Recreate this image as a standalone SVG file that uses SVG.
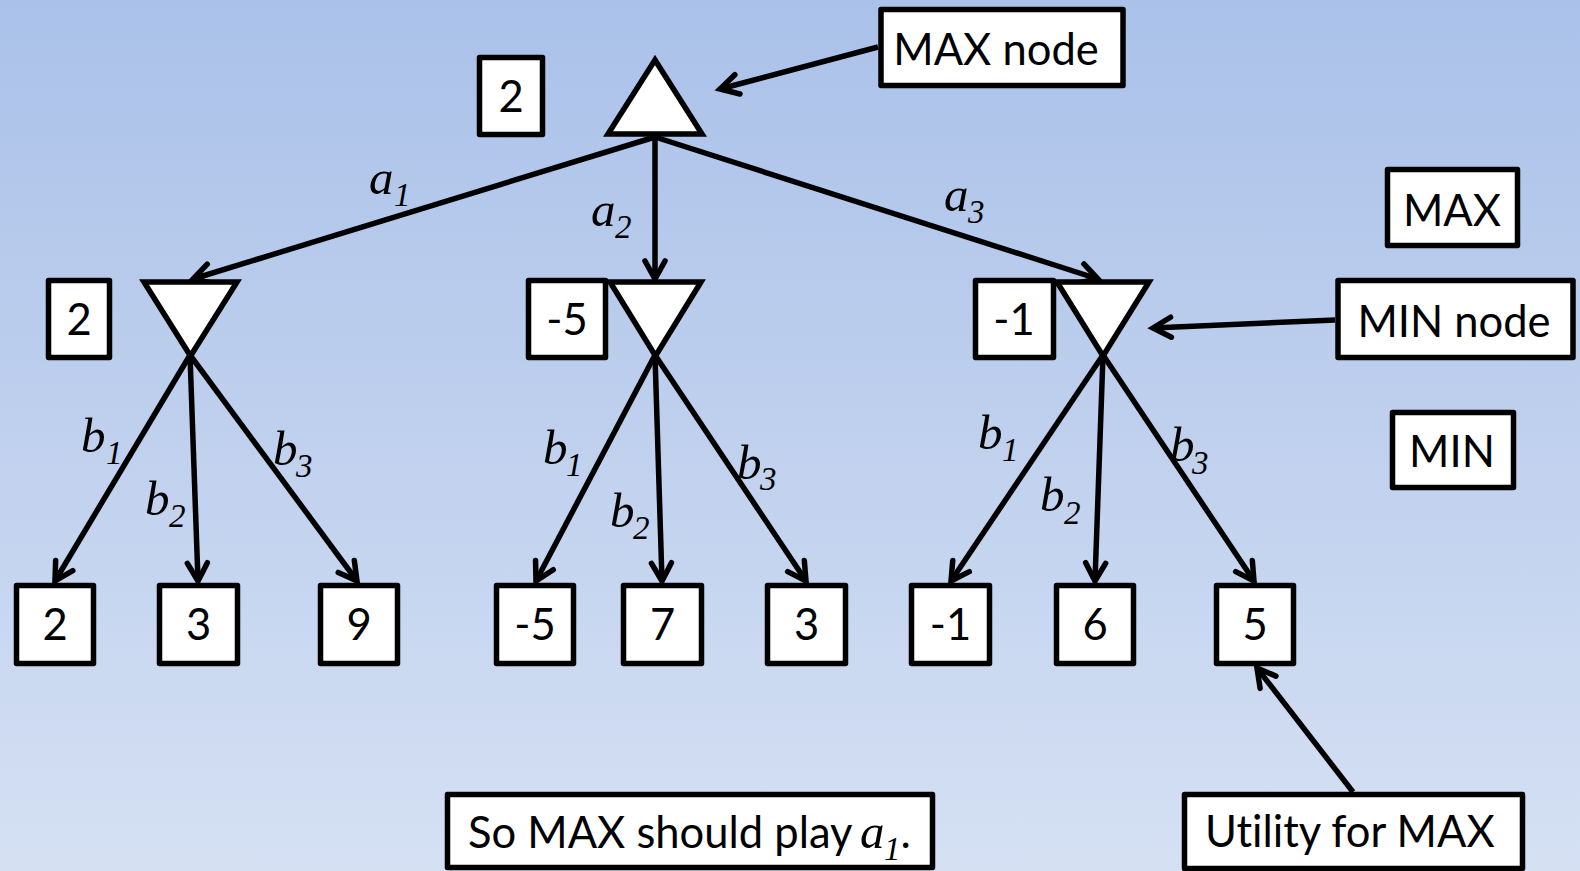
<svg xmlns="http://www.w3.org/2000/svg" width="1580" height="871" viewBox="0 0 1580 871">
  <defs>
    <linearGradient id="bg" x1="0" y1="0" x2="0" y2="1">
      <stop offset="0" stop-color="#AAC1E9"/>
      <stop offset="1" stop-color="#D5E0F3"/>
    </linearGradient>
    <marker id="arr" markerUnits="userSpaceOnUse" markerWidth="26" markerHeight="24" viewBox="0 0 26 24" refX="21" refY="12" orient="auto" overflow="visible">
      <path d="M3,2 L21,12 L3,22" fill="none" stroke="#000" stroke-width="5.5" stroke-linecap="round" stroke-linejoin="miter"/>
    </marker>
    <style>
      .box { fill: #fff; stroke: #000; stroke-width: 5.5; stroke-linejoin: round; }
      .tri { fill: #fff; stroke: #000; stroke-width: 5.5; stroke-linejoin: miter; }
      .edge { fill: none; stroke: #000; stroke-width: 5.5; marker-end: url(#arr); }
      .t { font-family: Lato, "Liberation Sans", sans-serif; font-size: 43.5px; fill: #000; font-variant-ligatures: none; }
      .c { text-anchor: middle; }
      .it { font-family: "Liberation Serif", serif; font-style: italic; font-size: 49px; fill: #000; }
      .sub { font-family: "Liberation Serif", serif; font-style: italic; font-size: 33px; fill: #000; }
    </style>
  </defs>

  <rect x="0" y="0" width="1580" height="871" fill="url(#bg)"/>

  <!-- connectors -->
  <g id="connectors">
    <line class="edge" x1="655" y1="137" x2="193" y2="279"/>
    <line class="edge" x1="655" y1="137" x2="655" y2="279"/>
    <line class="edge" x1="655" y1="137" x2="1098" y2="279"/>

    <line class="edge" x1="190" y1="355" x2="55" y2="581"/>
    <line class="edge" x1="190" y1="355" x2="198" y2="581"/>
    <line class="edge" x1="190" y1="355" x2="357" y2="581"/>

    <line class="edge" x1="655" y1="355" x2="536" y2="581"/>
    <line class="edge" x1="655" y1="355" x2="662" y2="581"/>
    <line class="edge" x1="655" y1="355" x2="806" y2="581"/>

    <line class="edge" x1="1103" y1="355" x2="951" y2="581"/>
    <line class="edge" x1="1103" y1="355" x2="1095" y2="581"/>
    <line class="edge" x1="1103" y1="355" x2="1254" y2="581"/>

    <line class="edge" x1="878" y1="47" x2="720" y2="89"/>
    <line class="edge" x1="1335" y1="320" x2="1153" y2="328"/>
    <line class="edge" x1="1353" y1="792" x2="1257" y2="668"/>
  </g>

  <!-- edge labels -->
  <g id="edge-labels">
    <text class="it" x="369" y="194">a</text><text class="sub" x="394" y="206">1</text>
    <text class="it" x="591" y="226">a</text><text class="sub" x="615" y="238">2</text>
    <text class="it" x="944" y="211">a</text><text class="sub" x="968" y="223">3</text>

    <text class="it" x="81" y="452">b</text><text class="sub" x="106" y="464">1</text>
    <text class="it" x="145" y="515">b</text><text class="sub" x="169" y="527">2</text>
    <text class="it" x="273" y="465">b</text><text class="sub" x="296" y="477">3</text>

    <text class="it" x="543" y="464">b</text><text class="sub" x="566" y="476">1</text>
    <text class="it" x="610" y="527">b</text><text class="sub" x="633" y="539">2</text>
    <text class="it" x="737" y="479">b</text><text class="sub" x="760" y="490">3</text>

    <text class="it" x="978" y="449">b</text><text class="sub" x="1002" y="461">1</text>
    <text class="it" x="1040" y="511">b</text><text class="sub" x="1064" y="524">2</text>
    <text class="it" x="1170" y="461">b</text><text class="sub" x="1192" y="474">3</text>
  </g>

  <!-- MAX root -->
  <g id="root">
    <polygon class="tri" points="655,60 608,134 702,134"/>
  </g>
  <g id="root-value">
    <rect class="box" x="479.5" y="57.5" width="63" height="77"/>
    <text class="t c" x="511" y="112">2</text>
  </g>

  <!-- MIN nodes -->
  <g id="min-1">
    <polygon class="tri" points="144,282 237,282 190.5,356"/>
  </g>
  <g id="min-1-value">
    <rect class="box" x="48.5" y="280.5" width="61" height="77"/>
    <text class="t c" x="79" y="335">2</text>
  </g>
  <g id="min-2">
    <polygon class="tri" points="610,282 701,282 655.5,356"/>
  </g>
  <g id="min-2-value">
    <rect class="box" x="528.5" y="280.5" width="77" height="77"/>
    <text class="t c" x="567" y="335">-5</text>
  </g>
  <g id="min-3">
    <polygon class="tri" points="1057,282 1149,282 1103,356"/>
  </g>
  <g id="min-3-value">
    <rect class="box" x="975.5" y="280.5" width="78" height="77"/>
    <text class="t c" x="1014" y="335">-1</text>
  </g>

  <!-- terminal utilities -->
  <g id="leaf-1"><rect class="box" x="16.5" y="585.5" width="77" height="78"/><text class="t c" x="55" y="640">2</text></g>
  <g id="leaf-2"><rect class="box" x="159.5" y="585.5" width="78" height="78"/><text class="t c" x="198.5" y="640">3</text></g>
  <g id="leaf-3"><rect class="box" x="320.5" y="585.5" width="77" height="78"/><text class="t c" x="359" y="640">9</text></g>
  <g id="leaf-4"><rect class="box" x="496.5" y="585.5" width="77" height="78"/><text class="t c" x="535" y="640">-5</text></g>
  <g id="leaf-5"><rect class="box" x="623.5" y="585.5" width="78" height="78"/><text class="t c" x="662.5" y="640">7</text></g>
  <g id="leaf-6"><rect class="box" x="767.5" y="585.5" width="78" height="78"/><text class="t c" x="806.5" y="640">3</text></g>
  <g id="leaf-7"><rect class="box" x="911.5" y="585.5" width="78" height="78"/><text class="t c" x="950.5" y="640">-1</text></g>
  <g id="leaf-8"><rect class="box" x="1056.5" y="585.5" width="77" height="78"/><text class="t c" x="1095" y="640">6</text></g>
  <g id="leaf-9"><rect class="box" x="1216.5" y="585.5" width="77" height="78"/><text class="t c" x="1255" y="640">5</text></g>

  <!-- legend and callouts -->
  <g id="max-node-label">
    <rect class="box" x="881" y="9.5" width="242" height="76"/>
    <text class="t c" x="996" y="65">MAX node</text>
  </g>
  <g id="max-legend">
    <rect class="box" x="1387.5" y="169.5" width="130" height="76"/>
    <text class="t c" x="1452" y="226">MAX</text>
  </g>
  <g id="min-node-label">
    <rect class="box" x="1338" y="280.5" width="235" height="77"/>
    <text class="t c" x="1454" y="337">MIN node</text>
  </g>
  <g id="min-legend">
    <rect class="box" x="1392.5" y="412.5" width="121" height="75"/>
    <text class="t c" x="1452" y="467">MIN</text>
  </g>
  <g id="utility-label">
    <rect class="box" x="1184.5" y="794.5" width="338" height="74"/>
    <text class="t" x="1205" y="847">Utility for MAX</text>
  </g>
  <g id="conclusion">
    <rect class="box" x="447.5" y="794.5" width="485" height="73"/>
    <text class="t" x="468" y="848">So MAX should play <tspan class="it" x="860">a</tspan><tspan class="sub" x="884" dy="12">1</tspan><tspan dy="-12">.</tspan></text>
  </g>
</svg>
